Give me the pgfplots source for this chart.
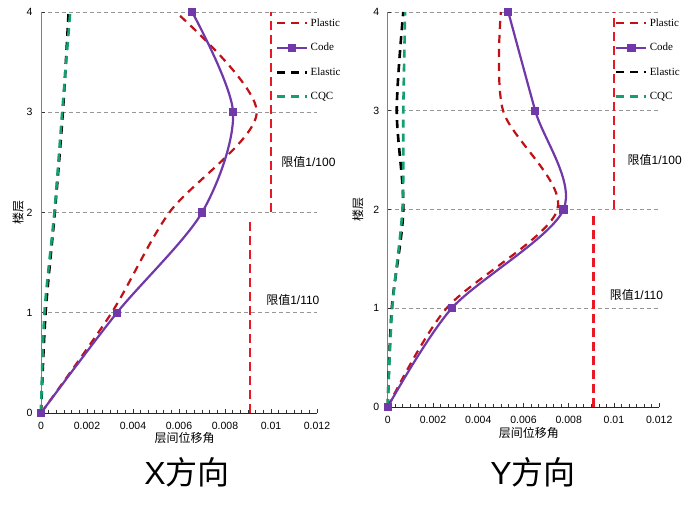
\documentclass[border=0pt]{standalone}
\usepackage{pgfplots}
\pgfplotsset{compat=1.18}
\usepackage{fontspec}
\setmainfont{Liberation Sans}
\newfontfamily\cjk{Noto Sans CJK SC}
\newfontfamily\lgserif{Liberation Serif}
\definecolor{plred}{RGB}{192,16,24}
\definecolor{limred}{RGB}{232,24,36}
\definecolor{codepurple}{RGB}{112,56,168}
\definecolor{cqcgreen}{RGB}{20,160,110}
\definecolor{gridgray}{RGB}{150,150,150}
\pgfplotsset{
  drift/.style={
    scale only axis, clip=false,
    xmin=0, xmax=0.012, ymin=0, ymax=4,
    axis x line*=bottom, axis y line*=left,
    x axis line style={black!85, line width=0.8pt},
    y axis line style={gray, line width=0.8pt},
    xtick={0,0.002,0.004,0.006,0.008,0.01,0.012},
    xticklabels={0,0.002,0.004,0.006,0.008,0.01,0.012},
    minor x tick num=5,
    ytick={0,1,2,3,4},
    yticklabels={0,1,2,3,4},
    scaled x ticks=false,
    tick align=inside,
    major tick length=3.5pt, minor tick length=3pt,
    tick style={black!80, line width=0.6pt},
    ymajorgrids,
    major grid style={gridgray, dash pattern=on 4pt off 3pt, line width=0.7pt},
    tick label style={font=\fontsize{10.5}{12}\selectfont},
    xticklabel style={yshift=-6pt},
    yticklabel style={xshift=-5pt},
    ylabel={\cjk 楼层},
    xlabel={\cjk 层间位移角},
    label style={font=\fontsize{12}{14}\selectfont},
    legend cell align=left,
    legend image code/.code={\draw[mark repeat=2,mark phase=2,##1] plot coordinates {(0pt,0pt) (15pt,0pt) (30pt,0pt)};},
    legend style={draw=none, fill=none, inner sep=0pt, anchor=north west,
      font=\lgserif\fontsize{11}{12}\selectfont,
      nodes={text height=8pt, text depth=2pt, inner sep=0pt},
      row sep=14.5pt, column sep=2pt},
  },
  plastic/.style={plred, line width=2.2pt, dash pattern=on 8pt off 6pt, smooth, no marks},
  code/.style={codepurple, line width=2.2pt, smooth, mark=square*, mark size=3pt, mark options={solid, fill=codepurple}},
  elastic/.style={black, line width=2.6pt, dash pattern=on 8pt off 6pt, smooth, no marks},
  cqc/.style={cqcgreen, line width=2.6pt, dash pattern=on 8pt off 6pt, smooth, no marks},
  limit/.style={limred, line width=2.8pt, dash pattern=on 9pt off 5pt, no marks, forget plot},
}
\begin{document}
\begin{tikzpicture}
\fill[white] (0pt,0pt) rectangle (688pt,513pt);
\path[use as bounding box] (0pt,0pt) rectangle (688pt,513pt);
% ---------------- X direction ----------------
\begin{axis}[drift,
  at={(41pt,100pt)}, anchor=south west,
  width=276pt, height=401pt,
  ylabel style={at={(axis description cs:-0.083,0.5)}, anchor=center},
  xlabel style={at={(axis description cs:0.52,-0.062)}, anchor=center},
  legend style={at={(axis description cs:0.851,0.985)}},
]
\addplot[limit] coordinates {(0.01,2) (0.01,4)};
\addplot[limit] coordinates {(0.00909,0) (0.00909,1.93)};
\addplot[plastic] coordinates {(0,0) (0.00307,1) (0.00558,2) (0.00938,3) (0.00586,4)};
\addplot[code] coordinates {(0,0) (0.0033,1) (0.0070,2) (0.00835,3) (0.00657,4)};
\addplot[elastic] coordinates {(0,0) (0.0002,1) (0.0006,2) (0.00095,3) (0.0012,4)};
\addplot[cqc] coordinates {(0,0) (0.00015,1) (0.00058,2) (0.00092,3) (0.00127,4)};
\legend{Plastic,Code,Elastic,CQC}
\node[anchor=west, font=\fontsize{12}{14}\selectfont] at (axis cs:0.0103,2.5) {{\cjk 限值}1/100};
\node[anchor=west, font=\fontsize{12}{14}\selectfont] at (axis cs:0.00964,1.13) {{\cjk 限值}1/110};
\end{axis}
% ---------------- Y direction ----------------
\begin{axis}[drift,
  at={(387.7pt,106pt)}, anchor=south west,
  width=271.5pt, height=395pt,
  ylabel style={at={(axis description cs:-0.11,0.5)}, anchor=center},
  xlabel style={at={(axis description cs:0.52,-0.066)}, anchor=center},
  legend style={at={(axis description cs:0.837,0.985)}},
]
\addplot[limit] coordinates {(0.01,2) (0.01,4)};
\addplot[limit] coordinates {(0.00909,0) (0.00909,1.93)};
\addplot[plastic] coordinates {(0,0) (0.0026,1) (0.0075,2) (0.0051,3) (0.0050,4)};
\addplot[code] coordinates {(0,0) (0.00283,1) (0.00777,2) (0.00652,3) (0.00533,4)};
\addplot[elastic] coordinates {(0,0) (0.00018,1) (0.00069,2) (0.0004,3) (0.00069,4)};
\addplot[cqc] coordinates {(0,0) (0.0002,1) (0.00065,2) (0.00069,3) (0.00077,4)};
\legend{Plastic,Code,Elastic,CQC}
\node[anchor=west, font=\fontsize{12}{14}\selectfont] at (axis cs:0.01045,2.5) {{\cjk 限值}1/100};
\node[anchor=west, font=\fontsize{12}{14}\selectfont] at (axis cs:0.00966,1.13) {{\cjk 限值}1/110};
\end{axis}
\node[font=\fontsize{32}{36}\selectfont] at (187pt,41pt) {X{\cjk 方向}};
\node[font=\fontsize{32}{36}\selectfont] at (533pt,41pt) {Y{\cjk 方向}};
\end{tikzpicture}
\end{document}
